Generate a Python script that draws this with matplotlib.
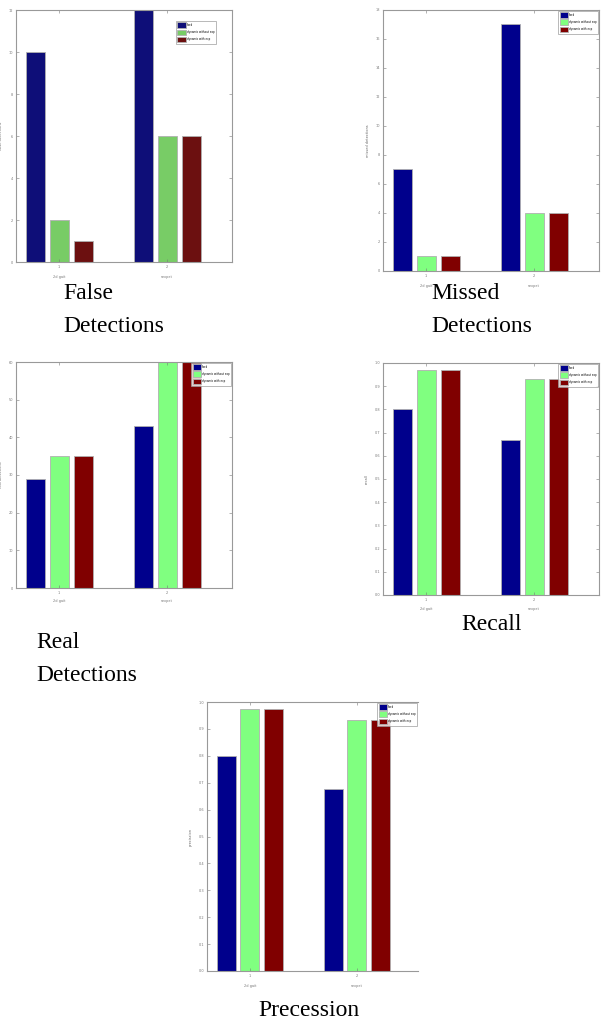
import numpy as np
import matplotlib.pyplot as plt

# --- Data ---
groups = [1, 2]
group_names = ['2d gait', 'sexpet']
series = ['fixed', 'dynamic without exp', 'dynamic with exp']

false_fixed = [10, 12]
false_noexp = [2, 6]
false_exp = [1, 6]

missed_fixed = [7, 17]
missed_noexp = [1, 4]
missed_exp = [1, 4]

real_fixed = [29, 43]
real_noexp = [35, 60]
real_exp = [35, 60]

recall_fixed = [0.80, 0.67]
recall_noexp = [0.97, 0.93]
recall_exp = [0.97, 0.93]

prec_fixed = [0.80, 0.675]
prec_noexp = [0.973, 0.934]
prec_exp = [0.973, 0.934]

W, H = 605, 1019
fig = plt.figure(figsize=(W / 100, H / 100), dpi=100)

COLORS = ['#00008c', '#80ff80', '#800000']
COLORS_FADED = ['#0e0e78', '#78cc66', '#6c1010']


def px_axes(left, right, top, bottom):
    return fig.add_axes([left / W, 1 - bottom / H, (right - left) / W, (bottom - top) / H])


def bar_panel(ax, data, ymax, ystep, ylabel, colors, xmax=2.6, right_spine=True):
    x = np.array(groups, dtype=float)
    offsets = [-0.222, 0.0, 0.222]
    for vals, off, col, name in zip(data, offsets, colors, series):
        ax.bar(x + off, vals, width=0.178, color=col, edgecolor='#b0b0b0',
               linewidth=0.6, label=name)
    ax.set_xlim(0.6, xmax)
    ax.set_ylim(0, ymax)
    ax.set_yticks(np.arange(0, ymax + ystep / 2, ystep))
    ax.set_xticks(groups)
    ax.tick_params(direction='in', length=2, width=0.4, labelsize=2.5,
                   colors='#777777', top=True, right=right_spine, pad=2)
    ax.set_ylabel(ylabel, fontsize=2.5, color='#666666', labelpad=4)
    for s in ax.spines.values():
        s.set_color('#999999')
        s.set_linewidth(0.8)
    if not right_spine:
        ax.spines['right'].set_visible(False)
    for g, name in zip(groups, group_names):
        ax.text(g, -0.05, name, transform=ax.get_xaxis_transform(),
                fontsize=2.5, color='#777777', ha='center', va='top')
    leg = ax.legend(loc='upper right', fontsize=1.9, frameon=True, fancybox=False,
                    borderpad=0.5, handlelength=3.2, handleheight=3.0,
                    handletextpad=0.4, labelspacing=0.5, borderaxespad=0.4)
    leg.get_frame().set_edgecolor('#999999')
    leg.get_frame().set_linewidth(0.6)
    return ax


ax1 = px_axes(16, 232, 10, 262)
bar_panel(ax1, [false_fixed, false_noexp, false_exp], 12, 2,
          'false detections', COLORS_FADED)
ax1.get_legend().set_bbox_to_anchor((0.93, 0.96))

ax2 = px_axes(383, 599, 10, 271)
bar_panel(ax2, [missed_fixed, missed_noexp, missed_exp], 18, 2,
          'missed detections', COLORS)

ax3 = px_axes(16, 232, 362, 588)
bar_panel(ax3, [real_fixed, real_noexp, real_exp], 60, 10,
          'real detections', COLORS)

ax4 = px_axes(383, 599, 363, 595)
bar_panel(ax4, [recall_fixed, recall_noexp, recall_exp], 1, 0.1,
          'recall', COLORS)

ax5 = px_axes(207, 418, 702, 971)
bar_panel(ax5, [prec_fixed, prec_noexp, prec_exp], 1, 0.1,
          'precission', COLORS, xmax=2.57, right_spine=False)

# --- Captions ---
cap = dict(fontsize=17, family=['Liberation Serif', 'DejaVu Serif'],
           color='black', va='baseline', ha='left')


def caption(x, y, s):
    fig.text(x / W, 1 - y / H, s, **cap)


caption(63, 299, 'False')
caption(63, 332, 'Detections')
caption(431, 299, 'Missed')
caption(431, 332, 'Detections')
caption(36, 648, 'Real')
caption(36, 681, 'Detections')
caption(461, 630, 'Recall')
caption(258, 1016, 'Precession')

fig.savefig('out.png', dpi=100)
